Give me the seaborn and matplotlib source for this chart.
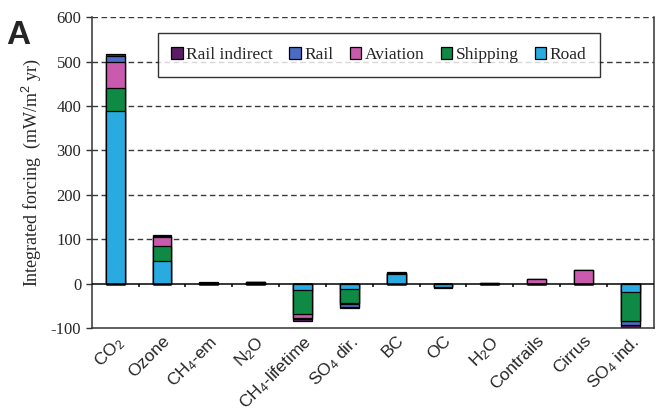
import matplotlib
matplotlib.use("Agg")
import numpy as np
import pandas as pd
import matplotlib.pyplot as plt
import matplotlib.patches as mpatches
import seaborn as sns

categories = ["CO$_2$", "Ozone", "CH$_4$-em", "N$_2$O", "CH$_4$-lifetime", "SO$_4$ dir.",
              "BC", "OC", "H$_2$O", "Contrails", "Cirrus", "SO$_4$ ind."]

# stacking order bottom -> top: Road, Shipping, Aviation, Rail, Rail indirect
road = [388, 52, 1, 2, -15, -11, 22, -8, 0, 0, 0, -19]
shipping = [52, 32, 1, 1, -53, -32, 2, 0, 0, 0, 0, -65]
aviation = [60, 22, 0, 0, -10, -2, 0, 0, 2, 10, 31, 0]
rail = [12, 2, 0, 0, -2, -7, 0, 0, 0, 0, 0, -9]
rail_indirect = [6, 1, 1, 1, -3, -2, 2, -2, 0, 0, 0, -4]

series_names = ["Road", "Shipping", "Aviation", "Rail", "Rail indirect"]
series_values = [road, shipping, aviation, rail, rail_indirect]
series_colors = ["#29abe2", "#0f8a45", "#c95aad", "#4a6cc4", "#5a1d63"]

sns.set_style("white")
plt.rcParams["mathtext.fontset"] = "custom"
plt.rcParams["mathtext.rm"] = "Liberation Sans"
plt.rcParams["mathtext.it"] = "Liberation Sans"
plt.rcParams["axes.unicode_minus"] = False

fig = plt.figure(figsize=(6.65, 4.17), dpi=100)
ax = fig.add_axes([0.138, 0.213, 0.845, 0.746])

vals = np.array(series_values, dtype=float)
pos = np.where(vals > 0, vals, 0).cumsum(axis=0)
neg = np.where(vals < 0, vals, 0).cumsum(axis=0)

# draw cumulative totals from the outermost layer inwards so each layer shows as a band
for i in reversed(range(len(series_names))):
    for cum in (pos, neg):
        df = pd.DataFrame({"cat": categories, "val": cum[i]})
        sns.barplot(data=df, x="cat", y="val", color=series_colors[i], saturation=1,
                    width=0.4, edgecolor="black", linewidth=0.9, ax=ax, errorbar=None)

ax.set_ylim(-100, 600)
ax.set_xlim(-0.5, len(categories) - 0.5)
ax.set_yticks(range(-100, 601, 100))
for yv in range(100, 601, 100):
    ax.axhline(yv, color="#3a3a3a", lw=1.0, ls=(0, (4, 2.5)), zorder=0)
ax.axhline(0, color="black", lw=1.1, zorder=3)
ax.vlines(np.arange(len(categories) - 1) + 0.5, -8, 0, color="black", lw=1.1)

for side in ["left", "right", "bottom"]:
    ax.spines[side].set_color("#333333")
    ax.spines[side].set_linewidth(1.1)
ax.spines["top"].set_visible(False)

ax.tick_params(axis="y", left=True, length=4, width=1, labelsize=12, color="#333333")
for lab in ax.get_yticklabels():
    lab.set_fontfamily("Liberation Serif")
ax.tick_params(axis="x", bottom=False, pad=0)
ax.set_xticks(range(len(categories)))
ax.set_xticklabels(categories, rotation=45, ha="right", rotation_mode="anchor",
                   fontsize=12.5, fontfamily="Liberation Sans")
ax.set_xlabel("")
ax.set_ylabel("Integrated forcing  (mW/m$^2$ yr)", fontsize=13,
              fontfamily="Liberation Serif", labelpad=6)

handles = [mpatches.Patch(facecolor=series_colors[i], edgecolor="black", linewidth=0.9,
                          label=series_names[i]) for i in reversed(range(len(series_names)))]
leg = ax.legend(handles=handles, ncol=5, loc="upper left", bbox_to_anchor=(0.117, 0.949),
                borderaxespad=0, frameon=True, fancybox=False, edgecolor="black",
                borderpad=0.8, handlelength=0.65, handleheight=0.65, handletextpad=0.2,
                columnspacing=0.95, prop={"family": "Liberation Serif", "size": 12.5})
leg.get_frame().set_linewidth(1.0)

fig.text(0.01, 0.895, "A", fontsize=24, fontweight="bold", fontfamily="Liberation Sans")

fig.savefig("out.png", dpi=100)
